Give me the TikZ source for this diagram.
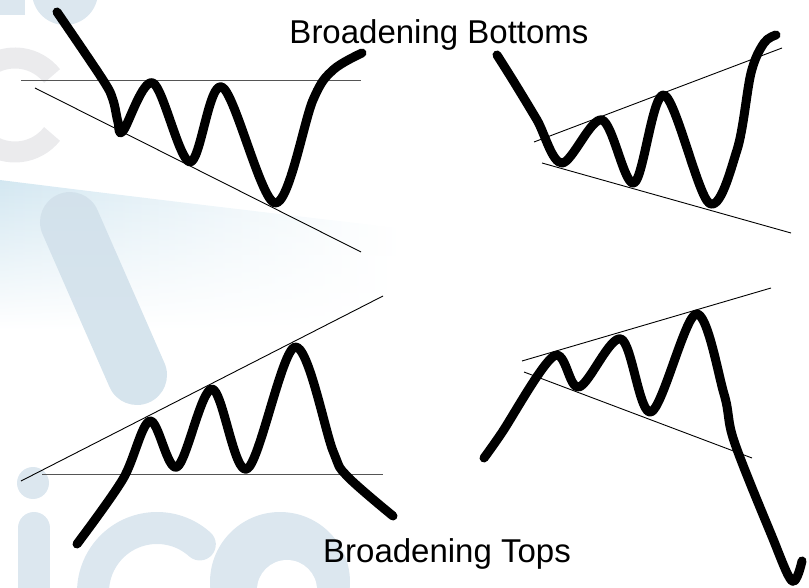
\documentclass[tikz,border=0pt]{standalone}
\usepackage{fontspec}
\setmainfont{Liberation Sans}
\usetikzlibrary{fadings}
\definecolor{wm}{HTML}{DCE7EF}
\definecolor{wmbar}{HTML}{D2E1EB}
\definecolor{wmband}{HTML}{D3E7F1}
\definecolor{wmgray}{HTML}{EBEBED}
\definecolor{guidegray}{HTML}{555555}
\tikzset{
  price/.style={line width=9pt, line cap=round, line join=round},
  guide/.style={line width=0.9pt, black},
  guideh/.style={line width=1pt, guidegray},
  title/.style={font=\fontsize{33}{36}\selectfont, anchor=base},
}
\begin{document}
\begin{tikzpicture}[x=1pt,y=-1pt]
\useasboundingbox (0,0) rectangle (809,588);
% ---- watermark ----
\fill[wm] (0,0) rectangle (25,15);
\fill[wm] (65,-8) circle[radius=33];
\draw[wmgray, line width=21pt] (15,105) ++(38:47) arc[start angle=38, end angle=322, radius=47];
\shade[left color=wmband, right color=white, path fading=south]
  (0,180) .. controls (120,195) and (260,212) .. (400,228) -- (400,330) -- (0,330) -- cycle;
\draw[wmbar, line width=60pt, line cap=round, opacity=0.9] (70,222) -- (137,375);
\fill[wm] (33,483) circle[radius=16];
\draw[wm, line width=32pt, line cap=round] (34,528) -- (34,600);
\draw[wm, line width=32pt, line cap=round] (157,592) ++(-48:64) arc[start angle=-48, end angle=-200, radius=64];
\fill[wm] (280,582) circle[radius=70];
\fill[white] (287,590) circle[radius=30];
% ---- guide lines ----
\draw[guideh] (21,81) -- (361,81);
\draw[guide] (35,88) -- (361,252);
\draw[guide] (534,142) -- (782,48);
\draw[guide] (542,163) -- (791,233);
\draw[guide] (21,481) -- (383,296);
\draw[guideh] (42,474) -- (383,474);
\draw[guide] (522,361) -- (771,288);
\draw[guide] (524,372) -- (752,458);
% ---- price curves ----
\draw[price] plot[smooth, tension=0.55] coordinates {(57,12) (103,80) (113,100) (118,122) (123,131) (153,83) (190,162) (222,87) (275,203) (313,100) (333,70) (362,53)};
\draw[price] plot[smooth, tension=0.55] coordinates {(497,55) (514,82) (537,120) (562,163) (602,120) (634,183) (664,95) (709,203) (737,150) (751,73) (764,43) (776,35)};
\draw[price] plot[smooth, tension=0.55] coordinates {(77,544) (123,479) (150,421) (177,467) (212,389) (247,469) (295,347) (333,451) (347,476) (393,516)};
\draw[price] plot[smooth, tension=0.55] coordinates {(484,458) (501,434) (554,356) (579,387) (621,339) (651,412) (696,314) (724,394) (734,441) (771,534) (792,581) (802,561)};
% ---- titles ----
\node[title] (tb) at (439,44) {Broadening Bottoms};
\node[title] (tt) at (447,562) {Broadening Tops};
\end{tikzpicture}
\end{document}
